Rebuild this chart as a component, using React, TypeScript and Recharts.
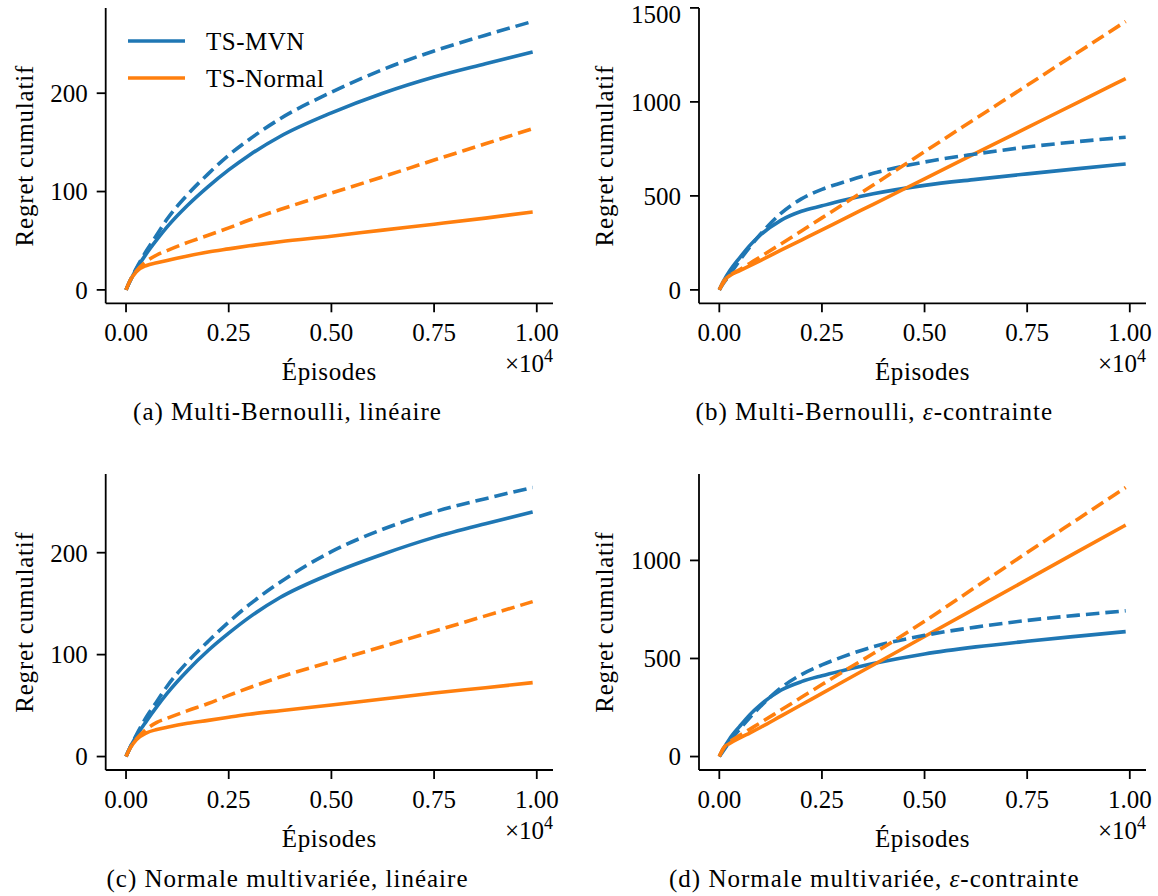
import { LineChart, Line, XAxis, YAxis, Label } from "recharts";

const FONT = '"Liberation Serif", "Times New Roman", serif';
const BLUE = "#1f77b4";
const ORANGE = "#ff7f0e";

// episodes sampled along every curve
const episodes = [0, 100, 250, 500, 750, 1000, 1500, 2000, 2500, 3000, 3750, 5000, 6250, 7500, 8750, 9900];

// (a) Multi-Bernoulli, linéaire
const bernLinMvn = [0, 9, 21, 37, 51, 64, 86, 105, 122, 137, 156, 180, 200, 216.5, 230, 242];
const bernLinMvnDash = [0, 9.5, 22, 40, 56, 72, 97, 118, 137, 153, 174, 201, 224, 243, 259, 273];
const bernLinNormal = [0, 9.5, 18.5, 24.8, 27.5, 30, 34.5, 38.5, 41.7, 44.8, 49, 54.6, 60.8, 66.8, 73, 79.3];
const bernLinNormalDash = [0, 9.5, 19, 29, 35.5, 40, 48.3, 55.5, 63, 71, 81.7, 98.4, 115, 132, 148.6, 164];

// (b) Multi-Bernoulli, ε-contrainte
const bernEpsMvn = [0, 45, 100, 172, 238, 292, 370, 418, 447, 475, 511, 556, 588, 617, 645, 670];
const bernEpsMvnDash = [0, 35, 80, 158, 230, 296, 407, 484, 535, 571, 620, 680, 723, 760, 789, 812];
const bernEpsNormal = [0, 45, 75, 102, 129, 156, 211, 265, 319, 374, 455, 591, 727, 863, 999, 1124];
const bernEpsNormalDash = [0, 38, 75, 108, 142, 176, 244, 313, 383, 453, 558, 735, 912, 1088, 1265, 1428];

// (c) Normale multivariée, linéaire
const normLinMvn = [0, 9, 20, 35, 49, 62, 84.5, 104, 121, 136.5, 156, 179.5, 198.5, 215, 228.5, 240];
const normLinMvnDash = [0, 9, 21, 39, 54, 69, 93, 113, 132, 149, 171, 201, 223, 240, 253, 264];
const normLinNormal = [0, 8.2, 16.5, 23.3, 26.5, 28.8, 32.7, 35.5, 38.5, 41.5, 45, 50.5, 56.5, 62.3, 67.5, 72.5];
const normLinNormalDash = [0, 8.5, 17, 27, 33.5, 37.5, 45, 52, 60, 67.5, 78, 93, 108, 123, 138, 152];

// (d) Normale multivariée, ε-contrainte
const normEpsMvn = [0, 40, 90, 155, 215, 264, 338, 382, 412, 438, 474, 523, 559, 588, 614, 637];
const normEpsMvnDash = [0, 30, 75, 140, 200, 255, 350, 418, 467, 508, 560, 618, 660, 694, 721, 743];
const normEpsNormal = [0, 42, 66, 95, 121, 148, 206, 264, 322, 380, 467, 612, 757, 902, 1047, 1180];
const normEpsNormalDash = [0, 40, 74, 108, 140, 172, 237, 302, 367, 431, 525, 690, 865, 1040, 1213, 1372];

const xTicks = [0, 2500, 5000, 7500, 10000];
const linTicks = [0, 100, 200];
const bernEpsTicks = [0, 500, 1000, 1500];
const normEpsTicks = [0, 500, 1000];

const legendLabels = ["TS-MVN", "TS-Normal"];

type Frame = { x: number; y: number; w: number; h: number };

interface PanelProps {
  left: number;
  top: number;
  width: number;
  height: number;
  frame: Frame;
  mvn: number[];
  mvnDash: number[];
  normal: number[];
  normalDash: number[];
  yTicks: number[];
  caption: React.ReactNode;
  captionX: number;
  yLabelX: number;
}

const textStyle = { fontFamily: FONT, fontSize: 25, fill: "#000" };
const axisStroke = { stroke: "#000", strokeWidth: 1.8 };

function Panel(p: PanelProps) {
  const rows = episodes.map((ep, i) => ({
    ep,
    mvn: p.mvn[i],
    normal: p.normal[i],
    mvnDash: p.mvnDash[i],
    normalDash: p.normalDash[i],
  }));
  const maxVal = Math.max(...p.mvn, ...p.mvnDash, ...p.normal, ...p.normalDash);
  const maxEp = episodes[episodes.length - 1];
  const xDomain = [-0.05 * maxEp, 1.05 * maxEp];
  const yDomain = [-0.05 * maxVal, 1.05 * maxVal];
  const xAxisHeight = 40;
  const margin = {
    top: p.frame.y - p.top,
    left: 0,
    right: p.left + p.width - (p.frame.x + p.frame.w),
    bottom: p.top + p.height - (p.frame.y + p.frame.h) - xAxisHeight,
  };

  const bottomLabels = (props: any) => {
    const vb = props.viewBox || {};
    const x0 = vb.x ?? 0;
    const y0 = vb.y ?? 0;
    const w = vb.width ?? 0;
    return (
      <g>
        <text x={x0 + w / 2} y={y0 + 77} textAnchor="middle" style={textStyle} letterSpacing={0.6}>
          Épisodes
        </text>
        <text x={x0 + w} y={y0 + 69} textAnchor="end" style={textStyle}>
          ×10<tspan dy={-10} fontSize={18}>4</tspan>
        </text>
        <text x={x0 + p.captionX} y={y0 + 117} textAnchor="middle" style={textStyle} letterSpacing={1}>
          {p.caption}
        </text>
      </g>
    );
  };

  const sideLabel = (props: any) => {
    const vb = props.viewBox || {};
    const fx = (vb.x ?? 0) + (vb.width ?? 0);
    const cy = p.frame.y - p.top + p.frame.h / 2;
    const lx = fx + p.yLabelX;
    return (
      <text
        x={lx}
        y={cy}
        transform={`rotate(-90, ${lx}, ${cy})`}
        textAnchor="middle"
        style={textStyle}
        letterSpacing={0.8}
      >
        Regret cumulatif
      </text>
    );
  };

  return (
    <div style={{ position: "absolute", left: p.left, top: p.top, width: p.width, height: p.height }}>
      <LineChart width={p.width} height={p.height} data={rows} margin={margin}>
        <XAxis
          dataKey="ep"
          type="number"
          domain={xDomain}
          allowDataOverflow
          ticks={xTicks}
          tickFormatter={(v: number) => (v / 10000).toFixed(2)}
          height={xAxisHeight}
          tick={textStyle}
          tickLine={axisStroke}
          axisLine={axisStroke}
          tickSize={9}
          tickMargin={11}
        >
          <Label content={bottomLabels} />
        </XAxis>
        <XAxis
          xAxisId="top"
          orientation="top"
          dataKey="ep"
          type="number"
          domain={xDomain}
          allowDataOverflow
          height={0}
          tick={false}
          tickLine={false}
          axisLine={axisStroke}
        />
        <YAxis
          type="number"
          domain={yDomain}
          allowDataOverflow
          ticks={p.yTicks}
          width={p.frame.x - p.left}
          tick={textStyle}
          tickLine={axisStroke}
          axisLine={axisStroke}
          tickSize={9}
          tickMargin={9}
        >
          <Label content={sideLabel} />
        </YAxis>
        <YAxis
          yAxisId="right"
          orientation="right"
          type="number"
          domain={yDomain}
          allowDataOverflow
          width={0}
          tick={false}
          tickLine={false}
          axisLine={axisStroke}
        />
        <Line dataKey="mvn" type="monotone" stroke={BLUE} strokeWidth={3.6} dot={false} isAnimationActive={false} />
        <Line dataKey="normal" type="monotone" stroke={ORANGE} strokeWidth={3.6} dot={false} isAnimationActive={false} />
        <Line
          dataKey="mvnDash"
          type="monotone"
          stroke={BLUE}
          strokeWidth={3.6}
          strokeDasharray="13.5 6"
          dot={false}
          isAnimationActive={false}
        />
        <Line
          dataKey="normalDash"
          type="monotone"
          stroke={ORANGE}
          strokeWidth={3.6}
          strokeDasharray="13.5 6"
          dot={false}
          isAnimationActive={false}
        />
      </LineChart>
    </div>
  );
}

function SeriesLegend() {
  const colors = [BLUE, ORANGE];
  return (
    <svg width={240} height={80} style={{ position: "absolute", left: 120, top: 20 }}>
      {legendLabels.map((label, i) => (
        <g key={label}>
          <line x1={8} x2={65} y1={21 + i * 37} y2={21 + i * 37} stroke={colors[i]} strokeWidth={3.6} />
          <text x={86} y={29.5 + i * 37} style={textStyle} letterSpacing={0.5}>
            {label}
          </text>
        </g>
      ))}
    </svg>
  );
}

const epsCaption = (prefix: string) => (
  <>
    {prefix}
    <tspan fontStyle="italic">ε</tspan>-contrainte
  </>
);

export default function App() {
  return (
    <div style={{ position: "absolute", left: 0, top: 0, width: 1158, height: 896, background: "#fff" }}>
      <Panel
        left={0}
        top={0}
        width={579}
        height={440}
        frame={{ x: 105.7, y: 8, w: 447.3, h: 295.3 }}
        mvn={bernLinMvn}
        mvnDash={bernLinMvnDash}
        normal={bernLinNormal}
        normalDash={bernLinNormalDash}
        yTicks={linTicks}
        caption="(a) Multi-Bernoulli, linéaire"
        captionX={181.8}
        yLabelX={-72.7}
      />
      <Panel
        left={579}
        top={0}
        width={579}
        height={440}
        frame={{ x: 699, y: 8, w: 447, h: 295.3 }}
        mvn={bernEpsMvn}
        mvnDash={bernEpsMvnDash}
        normal={bernEpsNormal}
        normalDash={bernEpsNormalDash}
        yTicks={bernEpsTicks}
        caption={epsCaption("(b) Multi-Bernoulli, ")}
        captionX={175.3}
        yLabelX={-86}
      />
      <Panel
        left={0}
        top={450}
        width={579}
        height={446}
        frame={{ x: 105.7, y: 474, w: 447.3, h: 296 }}
        mvn={normLinMvn}
        mvnDash={normLinMvnDash}
        normal={normLinNormal}
        normalDash={normLinNormalDash}
        yTicks={linTicks}
        caption="(c) Normale multivariée, linéaire"
        captionX={181.8}
        yLabelX={-72.7}
      />
      <Panel
        left={579}
        top={450}
        width={579}
        height={446}
        frame={{ x: 699, y: 474, w: 447, h: 296 }}
        mvn={normEpsMvn}
        mvnDash={normEpsMvnDash}
        normal={normEpsNormal}
        normalDash={normEpsNormalDash}
        yTicks={normEpsTicks}
        caption={epsCaption("(d) Normale multivariée, ")}
        captionX={175.3}
        yLabelX={-86}
      />
      <SeriesLegend />
    </div>
  );
}
